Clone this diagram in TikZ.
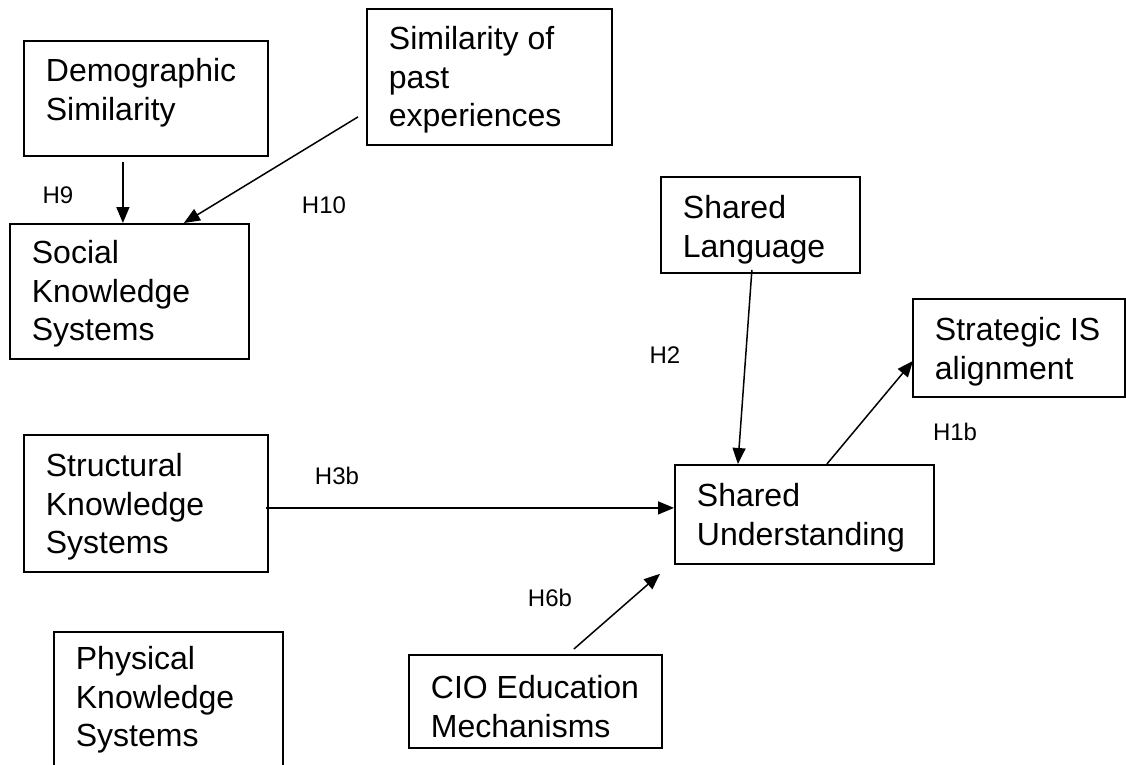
\documentclass[tikz,border=0pt]{standalone}
\usepackage{fontspec}
\setmainfont{Liberation Sans}
\usetikzlibrary{arrows.meta,calc}
\newcommand{\boxtxt}[4]{\parbox[c][#2pt][t]{#1pt}{\fontsize{32}{38.5}\selectfont\raggedright\leftskip=22pt\rule{0pt}{#3pt}#4}}
\begin{document}
\begin{tikzpicture}[x=1pt,y=-1pt,
  box/.style={draw, line width=1.8pt, inner sep=0pt, anchor=north west},
  lbl/.style={font=\fontsize{24}{28}\selectfont, inner sep=0pt},
  conn/.style={line width=1.5pt, -{Triangle[length=16pt,width=13pt]}}]
\useasboundingbox (0,0) rectangle (1126,764);
% boxes
\node[box] (dem)    at (23,40)   {\boxtxt{244}{115}{41}{Demographic\\Similarity}};
\node[box] (sim)    at (366,8)   {\boxtxt{245}{136}{41}{Similarity of\\past\\experiences}};
\node[box] (soc)    at (9,223)   {\boxtxt{239}{135}{40}{Social\\Knowledge\\Systems}};
\node[box] (lang)   at (660,176) {\boxtxt{199}{96}{42}{Shared\\Language}};
\node[box] (strat)  at (912,298) {\boxtxt{212}{98}{42}{Strategic IS\\alignment}};
\node[box] (struct) at (23,434)  {\boxtxt{244}{137}{42}{Structural\\Knowledge\\Systems}};
\node[box] (und)    at (674,464) {\boxtxt{259}{99}{42}{Shared\\Understanding}};
\node[box] (phys)   at (53,631)  {\boxtxt{229}{140}{38}{Physical\\Knowledge\\Systems}};
\node[box] (cio)    at (408,654) {\boxtxt{253}{93}{44}{CIO Education\\Mechanisms}};
% labels
\node[lbl] (h9)  at (58,195)  {H9};
\node[lbl] (h10) at (324,205) {H10};
\node[lbl] (h2)  at (665,355) {H2};
\node[lbl] (h1b) at (955,432) {H1b};
\node[lbl] (h3b) at (337,476) {H3b};
\node[lbl] (h6b) at (550,598) {H6b};
% connectors
\draw[conn] ($(dem.south)+(-23,5)$) -- ($(soc.north)+(-6.5,0)$);
\draw[conn] ($(sim.west)+(-8,40)$) -- ($(soc.north)+(54.5,0)$);
\draw[conn] ($(lang.south)+(-8.5,-4)$) -- ($(und.north)+(-66.5,0)$);
\draw[conn] ($(und.north)+(22.5,0)$) -- ($(strat.west)+(1,13)$);
\draw[conn] ($(struct.east)+(-3,4.5)$) -- ($(und.west)+(0,-6.5)$);
\draw[conn] ($(cio.north)+(38.5,-5)$) -- ($(und.south west)+(-14,9)$);
\end{tikzpicture}
\end{document}
